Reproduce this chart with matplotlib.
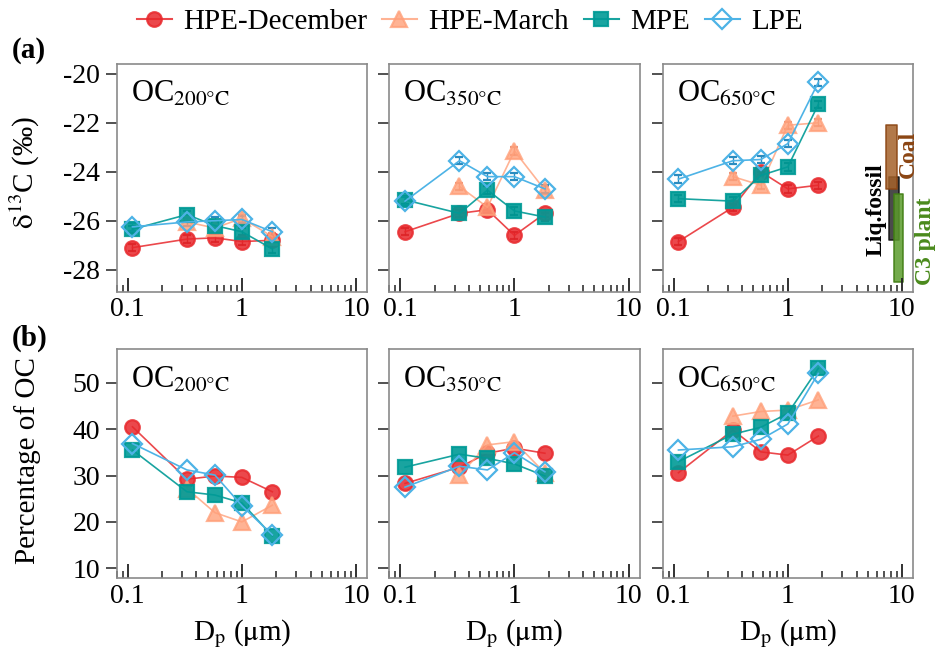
import matplotlib.pyplot as plt
import numpy as np
from matplotlib.lines import Line2D
from matplotlib.ticker import FixedLocator, LogLocator, NullFormatter

plt.rcParams['font.family'] = ['Liberation Serif', 'DejaVu Serif']
plt.rcParams['mathtext.fontset'] = 'stix'
plt.rcParams['axes.unicode_minus'] = False

# particle size (stage midpoints, um)
dp = [0.11, 0.33, 0.58, 1.0, 1.85]
nan = np.nan

# delta13C (permil) of each thermal fraction
d13c_oc200 = {
    'HPE-December': [-27.1, -26.75, -26.7, -26.85, -26.8],
    'HPE-March': [nan, -26.05, -26.3, -25.9, -26.65],
    'MPE': [-26.35, -25.75, -26.2, -26.45, -27.15],
    'LPE': [-26.25, -26.05, -26.0, -25.95, -26.45],
}
d13c_oc350 = {
    'HPE-December': [-26.45, -25.7, -25.55, -26.6, -25.7],
    'HPE-March': [nan, -24.6, -25.45, -23.15, -24.75],
    'MPE': [-25.15, -25.7, -24.75, -25.6, -25.85],
    'LPE': [-25.2, -23.55, -24.2, -24.2, -24.7],
}
d13c_oc650 = {
    'HPE-December': [-26.85, -25.45, -24.0, -24.7, -24.55],
    'HPE-March': [nan, -24.2, -24.55, -22.1, -22.0],
    'MPE': [-25.1, -25.2, -24.15, -23.8, -21.25],
    'LPE': [-24.3, -23.55, -23.5, -22.85, -20.35],
}
d13c_err = 0.15

# share of total OC (%) in each fraction
pct_oc200 = {
    'HPE-December': [40.5, 29.2, 29.9, 29.6, 26.5],
    'HPE-March': [nan, 27.2, 22.0, 20.0, 23.6],
    'MPE': [35.5, 26.5, 25.8, 24.1, 17.0],
    'LPE': [36.9, 31.2, 30.1, 23.5, 17.2],
}
pct_oc350 = {
    'HPE-December': [28.3, 31.8, 34.8, 35.9, 34.8],
    'HPE-March': [nan, 30.1, 36.6, 37.3, 30.5],
    'MPE': [31.8, 34.6, 33.7, 32.5, 29.9],
    'LPE': [27.5, 32.0, 31.2, 34.9, 30.8],
}
pct_oc650 = {
    'HPE-December': [30.6, 39.8, 35.1, 34.4, 38.5],
    'HPE-March': [nan, 42.8, 43.8, 44.1, 46.3],
    'MPE': [33.0, 38.9, 40.4, 43.4, 53.1],
    'LPE': [35.5, 36.2, 37.8, 41.1, 52.0],
}

# source end-member ranges of delta13C
source_names = ['Liq.fossil', 'Coal', 'C3 plant']
source_low = [-26.8, -24.7, -28.5]
source_high = [-24.2, -22.1, -24.9]

temps = ['200', '350', '650']

styles = {
    'HPE-December': dict(color='#e8282c', marker='o', ms=10.5, mfc='#e8282c', mec='#e8282c', alpha=0.85, ecolor='#a00000'),
    'HPE-March': dict(color='#ffa07a', marker='^', ms=11, mfc='#ffa07a', mec='#ffa07a', alpha=0.8, ecolor='#e07a5a'),
    'MPE': dict(color='#009a96', marker='s', ms=10, mfc='#009a96', mec='#009a96', alpha=0.9, ecolor='#005c5a'),
    'LPE': dict(color='#4db3e6', marker='D', ms=10, mfc='none', mec='#4db3e6', alpha=1.0, ecolor='#2a8cc0'),
}

fig = plt.figure(figsize=(9.36, 6.5), dpi=100)

lefts = [0.1247, 0.4159, 0.708]
width = 0.2674
top_row = [fig.add_axes([l, 0.5512, width, 0.3503]) for l in lefts]
bot_row = [fig.add_axes([l, 0.1103, width, 0.3523]) for l in lefts]


def style_axes(ax, show_ylabels):
    ax.set_xscale('log')
    ax.set_xlim(0.08, 12.5)
    ax.xaxis.set_major_locator(FixedLocator([0.1, 1, 10]))
    ax.set_xticklabels(['0.1', '1', '10'])
    ax.xaxis.set_minor_locator(LogLocator(base=10, subs=np.arange(2, 10), numticks=20))
    ax.xaxis.set_minor_formatter(NullFormatter())
    for sp in ax.spines.values():
        sp.set_color('#8a8a8a')
        sp.set_linewidth(1.2)
    ax.tick_params(axis='x', which='major', direction='in', length=10, width=1.3,
                   color='#222222', labelsize=20, pad=4)
    ax.tick_params(axis='x', which='minor', direction='in', length=5, width=1.1, color='#222222')
    ax.tick_params(axis='y', which='major', direction='out', length=8, width=1.2,
                   color='#333333', labelsize=20, pad=4, labelleft=show_ylabels)
    ax.tick_params(axis='y', which='minor', left=False)


for i, (ax, data) in enumerate(zip(top_row, [d13c_oc200, d13c_oc350, d13c_oc650])):
    for name, vals in data.items():
        st = styles[name]
        ax.errorbar(dp, vals, yerr=d13c_err, color=st['color'], marker=st['marker'],
                    ms=st['ms'], mfc=st['mfc'], mec=st['mec'], mew=1.6, alpha=st['alpha'],
                    lw=1.2, ecolor=st['ecolor'], elinewidth=1.0, capsize=3)
    ax.set_ylim(-28.9, -19.6)
    ax.set_yticks([-28, -26, -24, -22, -20])
    style_axes(ax, i == 0)
    ax.text(0.056, 0.834, r'OC$_{\mathrm{%s\degree C}}$' % temps[i], transform=ax.transAxes,
            fontsize=22, va='baseline', ha='left')

for i, (ax, data) in enumerate(zip(bot_row, [pct_oc200, pct_oc350, pct_oc650])):
    for name, vals in data.items():
        st = styles[name]
        ax.plot(dp, vals, color=st['color'], marker=st['marker'], ms=st['ms'],
                mfc=st['mfc'], mec=st['mec'], mew=1.6, alpha=st['alpha'], lw=1.2)
    ax.set_ylim(7.85, 57.2)
    ax.set_yticks([10, 20, 30, 40, 50])
    style_axes(ax, i == 0)
    ax.text(0.056, 0.83, r'OC$_{\mathrm{%s\degree C}}$' % temps[i], transform=ax.transAxes,
            fontsize=22, va='baseline', ha='left')
    ax.set_xlabel(r'D$_{\mathrm{p}}$ ($\mathrm{\mu}$m)', fontsize=21, labelpad=6)

# end-member bars next to the 650 C panel
ax = top_row[2]
bar_x = {'Liq.fossil': (7.7, 9.45), 'Coal': (7.3, 9.05), 'C3 plant': (8.6, 10.3)}
bar_face = {'Liq.fossil': '#2b2b2b', 'Coal': '#a5622a', 'C3 plant': '#5c9c2c'}
bar_edge = {'Liq.fossil': '#111111', 'Coal': '#8b4513', 'C3 plant': '#3f7d12'}
for name, lo, hi in zip(source_names, source_low, source_high):
    x0, x1 = bar_x[name]
    ax.fill_between([x0, x1], lo, hi, facecolor=bar_face[name], edgecolor=bar_edge[name],
                    lw=1.2, alpha=0.85, clip_on=False)
ax.text(5.9, -25.55, 'Liq.fossil', rotation=90, fontsize=17, fontweight='bold',
        color='black', ha='center', va='center')
ax.text(11.4, -23.3, 'Coal', rotation=90, fontsize=17, fontweight='bold',
        color='#8b4513', ha='center', va='center', clip_on=False)
ax.text(16.0, -26.85, 'C3 plant', rotation=90, fontsize=17, fontweight='bold',
        color='#4a8a1c', ha='center', va='center', clip_on=False)

fig.text(25 / 936, 1 - 173 / 650, r'$\mathrm{\delta}^{13}$C (‰)', rotation=90,
         fontsize=21, ha='center', va='center')
fig.text(28 / 936, 1 - 461 / 650, 'Percentage of OC', rotation=90,
         fontsize=21, ha='center', va='center')
fig.text(12 / 936, 1 - 50 / 650, '(a)', fontsize=21, fontweight='bold', ha='left', va='center')
fig.text(12 / 936, 1 - 338 / 650, '(b)', fontsize=21, fontweight='bold', ha='left', va='center')

handles = []
for name, st in styles.items():
    handles.append(Line2D([], [], color=st['color'], marker=st['marker'], ms=st['ms'],
                          mfc=st['mfc'], mec=st['mec'], mew=1.6, alpha=st['alpha'], lw=1.5))
fig.legend(handles, list(styles.keys()), loc='center', bbox_to_anchor=(0.502, 0.966),
           ncol=4, frameon=False, fontsize=21, handlelength=1.2, handletextpad=0.4,
           columnspacing=0.5)

fig.savefig('out.png', dpi=100)
